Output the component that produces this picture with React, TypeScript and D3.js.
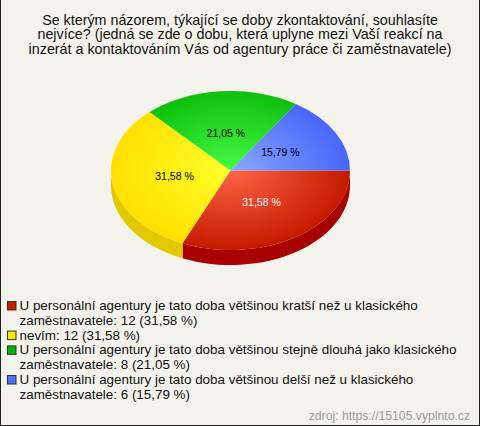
import React, { useMemo } from "react";
import * as d3 from "d3";

const W = 480;
const H = 426;

const titleLines = [
  "Se kterým názorem, týkající se doby zkontaktování, souhlasíte",
  "nejvíce? (jedná se zde o dobu, která uplyne mezi Vaší reakcí na",
  "inzerát a kontaktováním Vás od agentury práce či zaměstnavatele)",
];

const categories = [
  "U personální agentury je tato doba většinou kratší než u klasického zaměstnavatele",
  "nevím",
  "U personální agentury je tato doba většinou stejně dlouhá jako klasického zaměstnavatele",
  "U personální agentury je tato doba většinou delší než u klasického zaměstnavatele",
];

const counts = [12, 12, 8, 6];

const sourceText = "zdroj: https://15105.vyplnto.cz";

const topLight = ["#ff6446", "#ffff2a", "#46fa46", "#8aa8ff"];
const topDark = ["#c41a00", "#ffe000", "#0cc00c", "#4866fa"];
const sideColors = ["#a80000", "#e2c800", "#0a9a0a", "#3048c0"];
const markerColors = ["#c62000", "#ffe600", "#00b400", "#4a72ff"];
const labelColors = ["#ffffff", "#000000", "#000000", "#000000"];

const FONT = '"Liberation Sans", Arial, Helvetica, sans-serif';

function fmtPct(v: number) {
  return v.toFixed(2).replace(".", ",") + " %";
}

export default function App() {
  const total = d3.sum(counts);
  const pcts = counts.map((c) => fmtPct((c / total) * 100));

  const cx = 230.5;
  const cy = 170.5;
  const rx = 119.5;
  const ry = 79.5;
  const depth = 15;
  const k = ry / rx;
  const dPrime = depth / k;

  const arcs = d3
    .pie<number>()
    .sort(null)
    .startAngle(Math.PI / 2)
    .endAngle(Math.PI / 2 + 2 * Math.PI)(counts);

  const arcGen = d3.arc<d3.PieArcDatum<number>>().innerRadius(0).outerRadius(rx);
  const labelArc = d3
    .arc<d3.PieArcDatum<number>>()
    .innerRadius(0)
    .outerRadius(rx * 0.95);

  const p = (a: number) => [rx * Math.sin(a), -rx * Math.cos(a)];

  const sides = arcs
    .map((a, i) => {
      const s = Math.max(a.startAngle, Math.PI / 2);
      const e = Math.min(a.endAngle, (3 * Math.PI) / 2);
      if (e <= s) return null;
      const [x0, y0] = p(s);
      const [x1, y1] = p(e);
      const path = d3.path();
      path.moveTo(x0, y0);
      path.arc(0, 0, rx, s - Math.PI / 2, e - Math.PI / 2, false);
      path.lineTo(x1, y1 + dPrime);
      path.arc(0, dPrime, rx, e - Math.PI / 2, s - Math.PI / 2, true);
      path.closePath();
      return { d: path.toString(), i };
    })
    .filter(Boolean) as { d: string; i: number }[];

  const legendSize = 13.4;
  const legendFont = `${legendSize}px ${FONT}`;
  const legendLines = useMemo(() => {
    const canvas = document.createElement("canvas");
    const ctx = canvas.getContext("2d")!;
    ctx.font = legendFont;
    const maxW = 450;
    const out: { text: string; marker: number | null }[] = [];
    categories.forEach((c, i) => {
      const full = `${c}: ${counts[i]} (${pcts[i]})`;
      const words = full.split(" ");
      let line = "";
      let first = true;
      words.forEach((w) => {
        const test = line ? line + " " + w : w;
        if (ctx.measureText(test).width > maxW && line) {
          out.push({ text: line, marker: first ? i : null });
          first = false;
          line = w;
        } else {
          line = test;
        }
      });
      if (line) out.push({ text: line, marker: first ? i : null });
    });
    return out;
  }, []);

  const legendTop = 310;
  const legendStep = 14.8;

  return (
    <svg
      width={W}
      height={H}
      style={{ position: "absolute", left: 0, top: 0, display: "block" }}
      fontFamily={FONT}
    >
      <defs>
        {arcs.map((a, i) => (
          <radialGradient
            key={i}
            id={`g${i}`}
            gradientUnits="userSpaceOnUse"
            cx={0}
            cy={0}
            r={rx}
          >
            <stop offset="0" stopColor={topLight[i]} />
            <stop offset="1" stopColor={topDark[i]} />
          </radialGradient>
        ))}
      </defs>
      <rect x={0} y={0} width={W} height={H} fill="#f4f3eb" />
      <path
        d={`M0.5,0 V${H - 0.5} H${W - 0.5} V0`}
        fill="none"
        stroke="#222"
        strokeWidth={1}
      />
      <g fontSize={14.3} fill="#111" textAnchor="middle">
        {titleLines.map((t, i) => (
          <text key={i} x={240} y={24.5 + i * 14.8}>
            {t}
          </text>
        ))}
      </g>
      <g transform={`translate(${cx},${cy}) scale(1,${k})`}>
        {sides.map((s) => (
          <path key={s.i} d={s.d} fill={sideColors[s.i]} />
        ))}
        {arcs.map((a, i) => (
          <path key={i} d={arcGen(a) || ""} fill={`url(#g${i})`} />
        ))}
      </g>
      <g fontSize={10.5} textAnchor="middle">
        {arcs.map((a, i) => {
          const [x, y] = labelArc.centroid(a);
          return (
            <text
              key={i}
              x={cx + x}
              y={cy + y * k}
              dy="0.35em"
              fill={labelColors[i]}
            >
              {pcts[i]}
            </text>
          );
        })}
      </g>
      <g fontSize={legendSize} fill="#111">
        {legendLines.map((l, j) => (
          <g key={j}>
            {l.marker !== null && (
              <rect
                x={7.5}
                y={legendTop + j * legendStep - 8.5}
                width={8.5}
                height={8.5}
                fill={markerColors[l.marker]}
                stroke="#333"
                strokeWidth={1}
              />
            )}
            <text x={19.5} y={legendTop + j * legendStep}>
              {l.text}
            </text>
          </g>
        ))}
      </g>
      <text x={470} y={420} fontSize={12.2} fill="#999" textAnchor="end">
        {sourceText}
      </text>
    </svg>
  );
}
